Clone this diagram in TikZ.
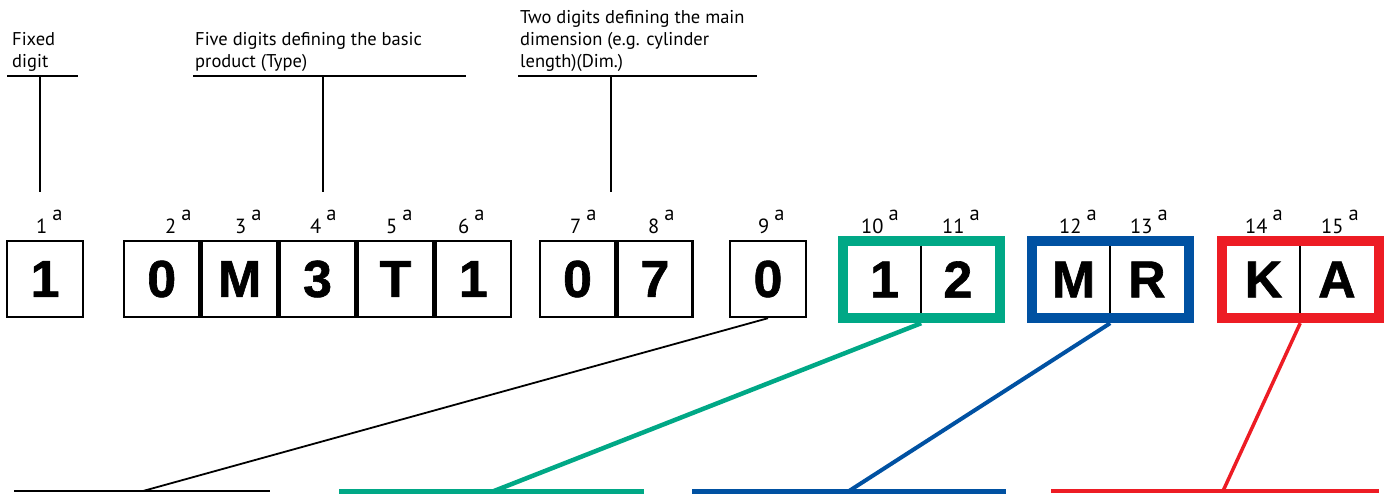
\documentclass[tikz,border=0pt]{standalone}
\usepackage{fontspec}
\setmainfont{PT Sans}
\newfontfamily\digitfont{Liberation Sans}[BoldFeatures={FakeBold=1.2}]
\usetikzlibrary{positioning,fit}

\definecolor{codegreen}{HTML}{00A886}
\definecolor{codeblue}{HTML}{0051A2}
\definecolor{codered}{HTML}{ED1C24}

% raised "a" after a position number
\newcommand{\supa}{\hspace{5pt}\raisebox{13pt}{a}}

\begin{document}
\begin{tikzpicture}[x=1pt,y=-1pt]

  % --- styles ---
  \tikzset{
    % one character of the code, black frame
    digitbox/.style={
      draw=black,
      line width=2.4pt,
      fill=white,
      text=black,
      font=\digitfont\bfseries\fontsize{52}{52}\selectfont,
      minimum width=75.5pt,
      minimum height=76pt,
      inner sep=0pt
    },
    % one character inside a coloured frame
    framedbox/.style={digitbox, draw=none, minimum width=71pt, minimum height=65pt},
    % thick coloured frame round two characters
    codeframe/.style={draw=#1, line width=10pt, inner sep=5pt},
    % position number above a character
    posnum/.style={font=\fontsize{20.5}{20.5}\selectfont, anchor=base west, inner sep=0pt},
    % explanation text
    callout/.style={font=\fontsize{18.5}{22}\selectfont, align=left, anchor=north west, inner sep=0pt},
    leader/.style={draw=black, line width=2pt},
    footline/.style={line width=#1}
  }
  \useasboundingbox (0,0) rectangle (1387,500);

  % --- the code characters ---
  \node[digitbox] (c1) at (45,279) {1};

  \node[digitbox] (c2) at (161.7,279) {0};
  \node[digitbox, right=0pt of c2] (c3) {M};
  \node[digitbox, right=0pt of c3] (c4) {3};
  \node[digitbox, right=0pt of c4] (c5) {T};
  \node[digitbox, right=0pt of c5] (c6) {1};

  \node[digitbox, minimum width=75pt] (c7) at (577.5,279) {0};
  \node[digitbox, minimum width=75pt, right=0pt of c7] (c8) {7};

  \node[digitbox] (c9) at (768,279) {0};

  % coloured pairs
  \node[framedbox] (c10) at (884.5,279.5) {1};
  \node[framedbox, right=0pt of c10] (c11) {2};
  \node[codeframe=codegreen, fit=(c10) (c11)] (gframe) {};
  \draw[line width=2pt] (c10.north east) -- (c10.south east);

  \node[framedbox] (c12) at (1073.5,279.5) {M};
  \node[framedbox, right=0pt of c12] (c13) {R};
  \node[codeframe=codeblue, fit=(c12) (c13)] (bframe) {};
  \draw[line width=2pt] (c12.north east) -- (c12.south east);

  \node[framedbox] (c14) at (1263.5,279.5) {K};
  \node[framedbox, right=0pt of c14] (c15) {A};
  \node[codeframe=codered, fit=(c14) (c15)] (rframe) {};
  \draw[line width=2pt] (c14.north east) -- (c14.south east);

  % --- position numbers ---
  \node[posnum] (p1) at (36,233) {1\supa};
  \node[posnum] (p2) at (165,233) {2\supa};
  \node[posnum] (p3) at (235,233) {3\supa};
  \node[posnum] (p4) at (310,233) {4\supa};
  \node[posnum] (p5) at (386,233) {5\supa};
  \node[posnum] (p6) at (458,233) {6\supa};
  \node[posnum] (p7) at (570,233) {7\supa};
  \node[posnum] (p8) at (648,233) {8\supa};
  \node[posnum] (p9) at (758,233) {9\supa};
  \node[posnum] (p10) at (861,233) {10\supa};
  \node[posnum] (p11) at (942,233) {11\supa};
  \node[posnum] (p12) at (1059,233) {12\supa};
  \node[posnum] (p13) at (1130,233) {13\supa};
  \node[posnum] (p14) at (1245,233) {14\supa};
  \node[posnum] (p15) at (1321,233) {15\supa};

  % --- explanations on top ---
  \node[callout] (fixtxt) at (12,32) {Fixed\\digit};
  \coordinate (fixL) at (7,76);
  \coordinate (fixR) at (78,76);
  \coordinate (fixT) at (40,76);
  \coordinate (fixB) at (40,192);
  \draw[leader] (fixL) -- (fixR);
  \draw[leader] (fixT) -- (fixB);

  \node[callout] (typetxt) at (195,32) {Five digits defining the basic\\product (Type)};
  \coordinate (typeL) at (193,76);
  \coordinate (typeR) at (466,76);
  \coordinate (typeT) at (323,76);
  \coordinate (typeB) at (323,192);
  \draw[leader] (typeL) -- (typeR);
  \draw[leader] (typeT) -- (typeB);

  \node[callout] (dimtxt) at (520,10) {Two digits defining the main\\dimension (e.g. cylinder\\length)(Dim.)};
  \coordinate (dimL) at (518,76);
  \coordinate (dimR) at (757,76);
  \coordinate (dimT) at (611,76);
  \coordinate (dimB) at (611,192);
  \draw[leader] (dimL) -- (dimR);
  \draw[leader] (dimT) -- (dimB);

  % --- lines at the bottom ---
  \coordinate (blkL) at (14,491);
  \coordinate (blkR) at (270,491);
  \coordinate (blkF) at (143,491);
  \draw[footline=2pt] (blkL) -- (blkR);
  \draw[footline=1.8pt] (blkF) -- (c9.south);

  \coordinate (grnL) at (339,491);
  \coordinate (grnR) at (644,491);
  \coordinate (grnF) at (494,491);
  \draw[codegreen, footline=5pt] (grnL) -- (grnR);
  \draw[codegreen, footline=4.5pt] (grnF) -- (gframe.south);

  \coordinate (bluL) at (692,491);
  \coordinate (bluR) at (1006,491);
  \coordinate (bluF) at (849,491);
  \draw[codeblue, footline=5pt] (bluL) -- (bluR);
  \draw[codeblue, footline=4pt] (bluF) -- (bframe.south);

  \coordinate (redL) at (1051,491);
  \coordinate (redR) at (1379,491);
  \coordinate (redF) at (1223,491);
  \draw[codered, footline=4.5pt] (redL) -- (redR);
  \draw[codered, footline=3.5pt] (redF) -- (rframe.south);

\end{tikzpicture}
\end{document}
